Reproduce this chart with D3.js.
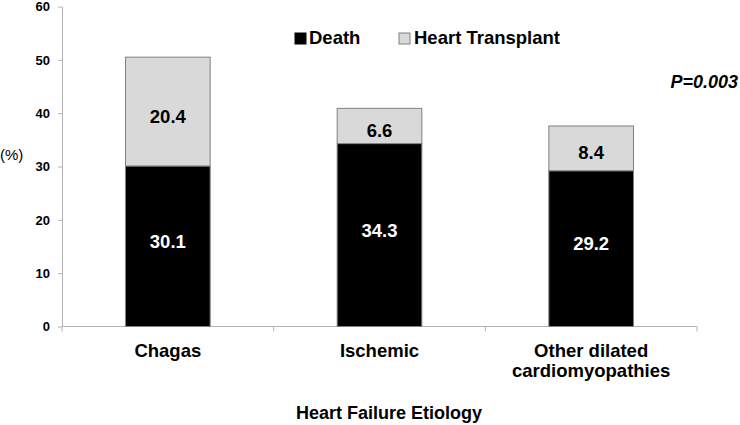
<!DOCTYPE html>
<html>
<head>
<meta charset="utf-8">
<script src="https://cdn.jsdelivr.net/npm/d3@7"></script>
<style>
  html, body { margin: 0; padding: 0; background: #fff; }
  text { font-family: "Liberation Sans", Arial, Helvetica, sans-serif; }
</style>
</head>
<body>
<svg id="chart" width="740" height="425"></svg>
<script>
const categories = ["Chagas", "Ischemic", "Other dilated cardiomyopathies"];
const categoryLines = [["Chagas"], ["Ischemic"], ["Other dilated", "cardiomyopathies"]];
const seriesNames = ["Death", "Heart Transplant"];
const death = [30.1, 34.3, 29.2];
const transplant = [20.4, 6.6, 8.4];
const yTicks = [0, 10, 20, 30, 40, 50, 60];
const pValue = "P=0.003";
const xTitle = "Heart Failure Etiology";
const yTitle = "(%)";

const svg = d3.select("#chart");
const plotLeft = 62, plotRight = 697, plotTop = 6.5, plotBottom = 326.5;

const y = d3.scaleLinear().domain([0, 60]).range([plotBottom, plotTop]);
const xOuter = d3.scaleBand().domain(categories).range([plotLeft, plotRight]).padding(0);
const xBar = d3.scaleBand().domain(categories).range([plotLeft, plotRight]).paddingInner(0.6).paddingOuter(0.3);
const color = d3.scaleOrdinal().domain(seriesNames).range(["#000000", "#d9d9d9"]);

const rows = categories.map((c, i) => ({ cat: c, Death: death[i], "Heart Transplant": transplant[i] }));
const stacked = d3.stack().keys(seriesNames)(rows);

// Y axis
const yAxis = svg.append("g")
  .attr("transform", `translate(${plotLeft},0)`)
  .call(d3.axisLeft(y).tickValues(yTicks).tickSize(4).tickPadding(8).tickSizeOuter(0));
yAxis.select(".domain").attr("stroke", "#b3b3b3");
yAxis.selectAll(".tick line").attr("stroke", "#b3b3b3");
yAxis.selectAll(".tick text").attr("fill", "#000").style("font-size", "13px").style("font-weight", "bold")
  .style("font-family", "'Liberation Sans', Arial, sans-serif");
svg.append("line").attr("x1", plotLeft).attr("x2", plotLeft).attr("y1", plotBottom).attr("y2", plotBottom + 5).attr("stroke", "#b3b3b3");

// X axis line and boundary ticks
svg.append("line").attr("x1", plotLeft).attr("x2", plotRight).attr("y1", plotBottom).attr("y2", plotBottom).attr("stroke", "#b3b3b3");
const bounds = categories.map(c => xOuter(c) + xOuter.bandwidth());
svg.selectAll(".btick").data(bounds).join("line")
  .attr("x1", d => d).attr("x2", d => d)
  .attr("y1", plotBottom).attr("y2", plotBottom + 5)
  .attr("stroke", "#b3b3b3");

// Bars
const layers = svg.append("g").selectAll("g").data(stacked).join("g")
  .attr("fill", d => color(d.key));
layers.selectAll("rect").data(d => d).join("rect")
  .attr("x", d => xBar(d.data.cat))
  .attr("width", xBar.bandwidth())
  .attr("y", d => y(d[1]))
  .attr("height", d => y(d[0]) - y(d[1]))
  .attr("stroke", "#808080")
  .attr("stroke-width", 1);

// Value labels
stacked.forEach(layer => {
  const isDeath = layer.key === "Death";
  svg.append("g").selectAll("text").data(layer).join("text")
    .attr("x", d => xBar(d.data.cat) + xBar.bandwidth() / 2)
    .attr("y", d => (y(d[0]) + y(d[1])) / 2 + (isDeath ? -5 : 4.5))
    .attr("text-anchor", "middle")
    .attr("dominant-baseline", "central")
    .attr("fill", isDeath ? "#fff" : "#000")
    .style("font-size", "18.5px").style("font-weight", "bold")
    .text(d => (d[1] - d[0]).toFixed(1));
});

// Category labels
categories.forEach((c, i) => {
  const cx = xOuter(c) + xOuter.bandwidth() / 2;
  const t = svg.append("text")
    .attr("x", cx)
    .attr("y", 356.5)
    .attr("text-anchor", "middle")
    .style("font-size", "18.5px").style("font-weight", "bold");
  categoryLines[i].forEach((ln, j) => {
    t.append("tspan").attr("x", cx).attr("dy", j === 0 ? 0 : 20).text(ln);
  });
});

// Axis titles
svg.append("text").attr("x", 389).attr("y", 419).attr("text-anchor", "middle")
  .style("font-size", "18px").style("font-weight", "bold").text(xTitle);
svg.append("text").attr("x", 0).attr("y", 160).attr("text-anchor", "start")
  .style("font-size", "15px").text(yTitle);

// P value
svg.append("text").attr("x", 738).attr("y", 88).attr("text-anchor", "end")
  .style("font-size", "18px").style("font-weight", "bold").style("font-style", "italic").text(pValue);

// Legend
const legendX = [295, 399];
const legendTextX = [309, 414];
seriesNames.forEach((s, i) => {
  svg.append("rect").attr("x", legendX[i]).attr("y", 33).attr("width", 11).attr("height", 11)
    .attr("fill", color(s)).attr("stroke", i === 0 ? "#000" : "#808080").attr("stroke-width", 1);
  svg.append("text").attr("x", legendTextX[i]).attr("y", 43.5)
    .style("font-size", "18.5px").style("font-weight", "bold").text(s);
});
</script>
</body>
</html>
